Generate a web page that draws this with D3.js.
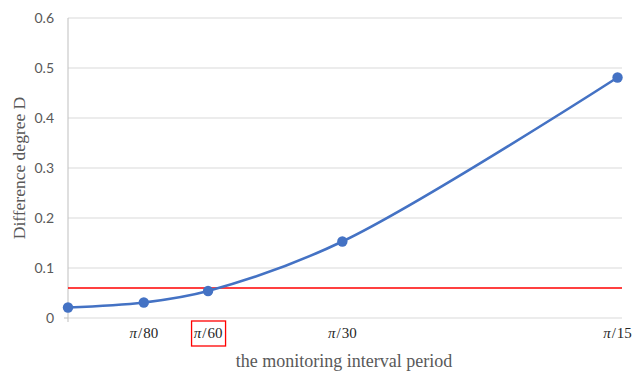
<!DOCTYPE html>
<html>
<head>
<meta charset="utf-8">
<script src="https://cdn.jsdelivr.net/npm/d3@7/dist/d3.min.js"></script>
<style>
  html, body { margin: 0; padding: 0; background: #fff; }
  svg { display: block; }
</style>
</head>
<body>
<svg id="chart" width="632" height="373"></svg>
<script>
// Monitoring interval (in multiples of π) and the difference degree D measured at each
const intervals = [0, 0.0092, 0.0170, 0.0333, 0.0667];
const differenceD = [0.021, 0.031, 0.054, 0.153, 0.481];
const intervalLabels = ["", "π/80", "π/60", "π/30", "π/15"];
const yTicks = [0, 0.1, 0.2, 0.3, 0.4, 0.5, 0.6];
const threshold = 0.06;
const highlighted = "π/60";

const svg = d3.select("#chart");
const plot = { left: 68, right: 622, top: 18, bottom: 318 };

const x = d3.scaleLinear().domain([0, 0.067]).range([plot.left, plot.right - 2]);
const y = d3.scaleLinear().domain([0, 0.6]).range([plot.bottom, plot.top]);

// horizontal gridlines
svg.append("g")
  .selectAll("line")
  .data(yTicks)
  .join("line")
  .attr("x1", plot.left).attr("x2", plot.right)
  .attr("y1", d => y(d)).attr("y2", d => y(d))
  .attr("stroke", "#d9d9d9").attr("stroke-width", 1);

// vertical axis line
svg.append("line")
  .attr("x1", plot.left).attr("x2", plot.left)
  .attr("y1", plot.top).attr("y2", plot.bottom + 4)
  .attr("stroke", "#bfbfbf").attr("stroke-width", 1);
svg.append("line")
  .attr("x1", plot.left - 4).attr("x2", plot.left)
  .attr("y1", plot.bottom).attr("y2", plot.bottom)
  .attr("stroke", "#bfbfbf").attr("stroke-width", 1);

// y tick labels
const yAxis = d3.axisLeft(y).tickValues(yTicks).tickSize(0).tickPadding(0)
  .tickFormat(d => d === 0 ? "0" : d3.format(".1f")(d));
const yg = svg.append("g").attr("transform", `translate(${plot.left - 14},0)`).call(yAxis);
yg.select(".domain").remove();
yg.selectAll("text")
  .attr("font-family", "Lato, 'Open Sans', sans-serif")
  .attr("font-size", 14)
  .attr("fill", "#595959");

// threshold line
svg.append("line")
  .attr("x1", plot.left).attr("x2", plot.right)
  .attr("y1", y(threshold)).attr("y2", y(threshold))
  .attr("stroke", "#ff0000").attr("stroke-width", 1.6);

// smoothed series line
const pts = intervals.map((v, i) => [v, differenceD[i]]);
const line = d3.line()
  .x(d => x(d[0])).y(d => y(d[1]))
  .curve(d3.curveCatmullRom.alpha(0.5));
svg.append("path")
  .datum(pts)
  .attr("d", line)
  .attr("fill", "none")
  .attr("stroke", "#4472c4")
  .attr("stroke-width", 2.6);

svg.append("g")
  .selectAll("circle")
  .data(pts)
  .join("circle")
  .attr("cx", d => x(d[0])).attr("cy", d => y(d[1]))
  .attr("r", 5.2)
  .attr("fill", "#4472c4");

// interval labels below the axis
const xl = svg.append("g")
  .selectAll("text")
  .data(intervals.map((v, i) => ({ v, label: intervalLabels[i] })).filter(d => d.label))
  .join("text")
  .attr("x", d => x(d.v))
  .attr("y", 338)
  .attr("text-anchor", "middle")
  .attr("font-family", "'Liberation Serif', 'Times New Roman', serif")
  .attr("font-size", 15)
  .attr("fill", "#262626");
xl.append("tspan").attr("font-style", "italic").text(d => d.label.slice(0, 1));
xl.append("tspan").attr("dx", 1).text("/");
xl.append("tspan").attr("dx", 1).text(d => d.label.slice(2));

// box around the highlighted interval
const hi = intervals[intervalLabels.indexOf(highlighted)];
svg.append("rect")
  .attr("x", x(hi) - 16.5).attr("y", 321)
  .attr("width", 34).attr("height", 25)
  .attr("fill", "none")
  .attr("stroke", "#ff0000").attr("stroke-width", 1.3);

// axis titles
svg.append("text")
  .attr("x", (plot.left + plot.right) / 2 - 1)
  .attr("y", 367)
  .attr("text-anchor", "middle")
  .attr("font-family", "'Liberation Serif', 'Times New Roman', serif")
  .attr("font-size", 18)
  .attr("fill", "#595959")
  .text("the monitoring interval period");

svg.append("text")
  .attr("transform", `translate(25,${(plot.top + plot.bottom) / 2}) rotate(-90)`)
  .attr("text-anchor", "middle")
  .attr("font-family", "'Liberation Serif', 'Times New Roman', serif")
  .attr("font-size", 17.5)
  .attr("fill", "#595959")
  .text("Difference degree D");
</script>
</body>
</html>
